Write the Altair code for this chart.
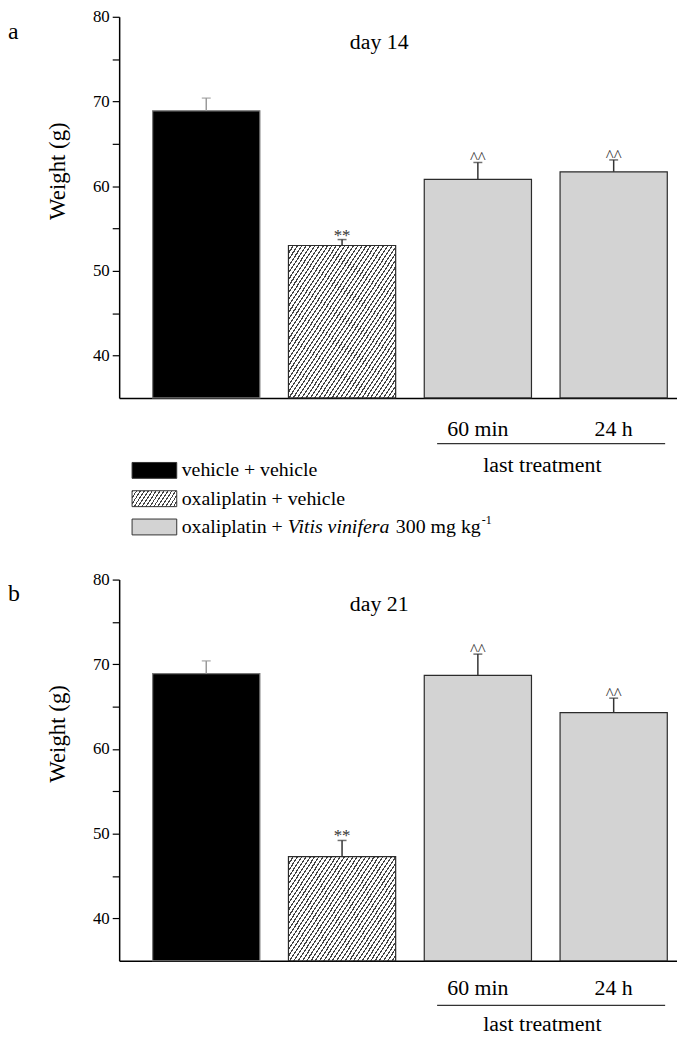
import math
import altair as alt
import pandas as pd

# ---------------- data ----------------
groups = ["veh", "oxa", "vv60", "vv24"]
kinds = ["black", "hatch", "gray", "gray"]
x_labels = ["", "", "60 min", "24 h"]
sig_marks = ["", "**", "^^", "^^"]

day14_mean = [68.9, 53.0, 60.8, 61.7]
day14_sem = [1.5, 0.7, 2.0, 1.4]
day21_mean = [68.9, 47.3, 68.7, 64.3]
day21_sem = [1.5, 1.9, 2.5, 1.7]

panel_titles = ["day 14", "day 21"]
panel_letters = ["a", "b"]
y_ticks = [40, 45, 50, 55, 60, 65, 70, 75, 80]
group_caption = "last treatment"
legend_rows = [["vehicle + vehicle"], ["oxaliplatin + vehicle"],
               ["oxaliplatin + ", "Vitis vinifera", " 300 mg kg", "-1"]]

# ---------------- style ----------------
FONT = "Liberation Serif"
W, H = 562, 384
Y_MIN, Y_MAX = 35, 80

REG = {" ": 250, "+": 564, "-": 333, "a": 444, "c": 444, "e": 444, "g": 500, "h": 500,
       "i": 278, "k": 500, "l": 278, "m": 778, "n": 500, "o": 500, "p": 500, "r": 333,
       "s": 389, "t": 278, "v": 500, "x": 500}
ITA = {" ": 250, "V": 611, "a": 500, "e": 444, "f": 278, "i": 278, "n": 500, "r": 389,
       "s": 389, "t": 278, "v": 444}


def tw(s, size, italic=False):
    tab = ITA if italic else REG
    return sum(tab.get(ch, 500) for ch in s) * size / 1000.0


def hatch(w, h, period=3.6, frac=0.32, angle=57, dark="#444444"):
    s, c = math.sin(math.radians(angle)), math.cos(math.radians(angle))
    mu = (s / h + c / w) / (s * s / (h * h) + c * c / (w * w))
    a, b = mu * s / h, mu * c / w
    n = max(1, int(round((s * w + c * h) / period)))
    stops = []
    for i in range(n):
        o0, o1, o2 = i / n, (i + frac) / n, (i + 1) / n
        stops += [alt.GradientStop(offset=o0, color=dark), alt.GradientStop(offset=o1, color=dark),
                  alt.GradientStop(offset=o1, color="white"), alt.GradientStop(offset=o2, color="white")]
    return alt.Gradient(gradient="linear", x1=0, y1=0, x2=a, y2=b, stops=stops)


one = pd.DataFrame({"k": [0]})


def panel(means, sems, title, letter, with_legend, offs):
    lab_dy, line_dy, cap_dy = offs
    df = pd.DataFrame({"group": groups, "kind": kinds, "label": x_labels, "sig": sig_marks,
                       "mean": means, "hi": [m + s for m, s in zip(means, sems)]})
    xs = alt.Scale(domain=groups, paddingInner=0.2105, paddingOuter=0.159, align=0.775)
    ys = alt.Scale(domain=[Y_MIN, Y_MAX], nice=False, zero=False)
    xenc = alt.X("group:N", scale=xs, sort=groups,
                 axis=alt.Axis(title=None, labels=False, ticks=False, domain=True,
                               domainColor="black", domainWidth=1.5, grid=False))
    yaxis = alt.Axis(values=y_ticks, labelExpr="datum.value % 10 === 0 ? datum.label : ''",
                     tickSize=7, tickColor="black", tickWidth=1.2, domainColor="black",
                     domainWidth=1.5, labelFont=FONT, labelFontSize=17, labelColor="black",
                     labelPadding=3, grid=False, title="Weight (g)", titleFont=FONT,
                     titleFontSize=23, titleFontWeight="normal", titleColor="black",
                     titleX=-62, titleY=155, titleAngle=270, titleAlign="center",
                     titleBaseline="middle")
    base = alt.Chart(df).encode(x=xenc)
    solid = base.transform_filter("datum.kind != 'hatch'").mark_bar(strokeWidth=1.2).encode(
        y=alt.Y("mean:Q", scale=ys, axis=yaxis),
        y2=alt.Y2(datum=Y_MIN),
        fill=alt.Fill("kind:N", scale=alt.Scale(domain=["black", "gray"], range=["#000000", "#d3d3d3"]), legend=None),
        stroke=alt.Stroke("kind:N", scale=alt.Scale(domain=["black", "gray"], range=["#777777", "#2b2b2b"]), legend=None),
    )
    hi_idx = kinds.index("hatch")
    hatch_h = (means[hi_idx] - Y_MIN) * H / (Y_MAX - Y_MIN)
    hatched = base.transform_filter("datum.kind == 'hatch'").mark_bar(
        fill=hatch(108, hatch_h), stroke="#2b2b2b", strokeWidth=1.2).encode(
        y=alt.Y("mean:Q"), y2=alt.Y2(datum=Y_MIN))
    ecolor = alt.condition("datum.kind == 'black'", alt.value("#9a9a9a"), alt.value("#333333"))
    err = base.mark_rule(strokeWidth=1.5).encode(y="mean:Q", y2="hi:Q", color=ecolor)
    cap = base.mark_tick(size=9, thickness=1.5).encode(y="hi:Q", color=ecolor)
    sig = base.mark_text(baseline="alphabetic", dy=1, fontSize=17, color="#333333").encode(
        y="hi:Q", text="sig:N")
    xl = base.mark_text(fontSize=22, baseline="middle").encode(y=alt.value(H + lab_dy), text="label:N")
    uline = alt.Chart(one).mark_rule(color="#333333", strokeWidth=1.3).encode(
        x=alt.X(datum="vv60", bandPosition=0.12),
        x2=alt.X2(datum="vv24", bandPosition=0.98),
        y=alt.value(H + line_dy))
    cap_txt = alt.Chart(one).mark_text(fontSize=22, dx=11, baseline="middle").encode(
        x=alt.X(datum="vv60", bandPosition=1), y=alt.value(H + cap_dy), text=alt.value(group_caption))
    ttl = alt.Chart(one).mark_text(fontSize=22, baseline="middle").encode(
        x=alt.value(262), y=alt.value(25), text=alt.value(title))
    let = alt.Chart(one).mark_text(fontSize=24, align="left", baseline="middle").encode(
        x=alt.value(-112), y=alt.value(15), text=alt.value(letter))
    layers = [solid, hatched, err, cap, sig, xl, uline, cap_txt, ttl, let]
    if with_legend:
        fills = ["#000000", hatch(45, 16, period=3.3), "#d3d3d3"]
        fs = 20
        for i, row in enumerate(legend_rows):
            cy = H + 73 + 28.5 * i
            layers.append(alt.Chart(one).mark_rect(fill=fills[i], stroke="#333333", strokeWidth=1).encode(
                x=alt.value(13), x2=alt.value(58), y=alt.value(cy - 8), y2=alt.value(cy + 8)))
            x0 = 63
            for j, piece in enumerate(row):
                italic = (j == 1)
                sup = (j == 3)
                lead = len(piece) - len(piece.lstrip(" "))
                x_piece = x0 + tw(" " * lead, fs, italic)
                layers.append(alt.Chart(one).mark_text(
                    fontSize=12 if sup else fs, align="left", baseline="middle",
                    fontStyle="italic" if italic else "normal").encode(
                    x=alt.value(x_piece + (1 if sup else 0)), y=alt.value(cy - 7 if sup else cy),
                    text=alt.value(piece.strip())))
                x0 += tw(piece, fs, italic)
    return alt.layer(*layers).properties(width=W, height=H)


pa = panel(day14_mean, day14_sem, panel_titles[0], panel_letters[0], True, (31, 46, 68))
pb = panel(day21_mean, day21_sem, panel_titles[1], panel_letters[1], False, (28, 45, 64))

chart = alt.vconcat(pa, pb, spacing=34).properties(
    padding={"left": 0, "top": -4, "right": 0, "bottom": 0}
).configure_view(stroke=None).configure_text(font=FONT, color="black")

chart.save("out.html", embed_options={"renderer": "svg", "actions": False})
